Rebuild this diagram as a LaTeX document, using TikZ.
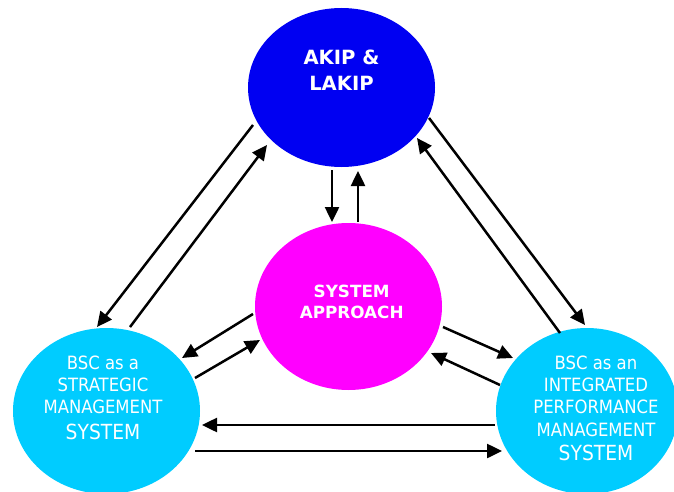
\documentclass[tikz,border=0pt]{standalone}
\usepackage{fontspec}
\setmainfont{DejaVu Sans}
\newfontfamily\condfont{DejaVu Sans Condensed}
\usetikzlibrary{arrows.meta,shapes.geometric}
\definecolor{akipblue}{RGB}{0,0,242}
\definecolor{sysmag}{RGB}{255,0,255}
\definecolor{bsccyan}{RGB}{0,204,255}
\begin{document}
\begin{tikzpicture}[x=1pt,y=-1pt,
  bubble/.style={ellipse, inner sep=0pt, draw=none},
  conn/.style={line width=2.5pt, -{Triangle[length=15pt,width=14pt]}},
  txt/.style={text=white, anchor=base, inner sep=0pt},
  boldbig/.style={txt, font=\bfseries\fontsize{19.6}{23}\selectfont},
  boldmid/.style={txt, font=\bfseries\fontsize{16.8}{20}\selectfont},
  plain/.style={txt, font=\condfont\fontsize{18.3}{22}\selectfont},
  plainbig/.style={txt, font=\condfont\fontsize{20.8}{25}\selectfont}]
\useasboundingbox (0,0) rectangle (674,492);

% bubbles
\node[bubble, fill=akipblue, minimum width=187pt, minimum height=159pt] (akip) at (341.5,87.5) {};
\node[bubble, fill=sysmag, minimum width=187pt, minimum height=167pt] (sys) at (348.5,306.5) {};
\node[bubble, fill=bsccyan, minimum width=187pt, minimum height=166pt] (bsl) at (106.5,411) {};
\node[bubble, fill=bsccyan, minimum width=182pt, minimum height=166pt] (bsr) at (587,411) {};

% texts
\node[boldbig] (akipA) at (341.5,64.5) {AKIP \&};
\node[boldbig] (akipB) at (341.5,90.3) {LAKIP};
\node[boldmid] (sysA) at (351.7,297.7) {SYSTEM};
\node[boldmid] (sysB) at (351.7,318) {APPROACH};
\node[plain] (blA) at (103,369.7) {BSC as a};
\node[plain] (blB) at (103,391.7) {STRATEGIC};
\node[plain] (blC) at (103,413.7) {MANAGEMENT};
\node[plainbig] (blD) at (103,439.5) {SYSTEM};
\node[plain] (brA) at (596,369.7) {BSC as an};
\node[plain] (brB) at (596,391.7) {INTEGRATED};
\node[plain] (brC) at (596,413.7) {PERFORMANCE};
\node[plain] (brD) at (596,436.7) {MANAGEMENT};
\node[plainbig] (brE) at (596,460.5) {SYSTEM};

% connector end points
\coordinate (akipDown) at (332,170);  \coordinate (sysUpIn) at (332,222);
\coordinate (sysUp) at (358,222);     \coordinate (akipUpIn) at (358,171);
\coordinate (akipToL) at (253,125);   \coordinate (bslIn) at (97,327);
\coordinate (bslToT) at (130,327);    \coordinate (akipInL) at (267,145);
\coordinate (akipToR) at (429,118);   \coordinate (bsrIn) at (585,325);
\coordinate (bsrToT) at (560,333);    \coordinate (akipInR) at (417,138);
\coordinate (sysToL) at (253,314);    \coordinate (bslInM) at (182,358);
\coordinate (bslToM) at (195,378);    \coordinate (sysInL) at (260,340);
\coordinate (sysToR) at (443,327);    \coordinate (bsrInM) at (513,358);
\coordinate (bsrToM) at (500,385);    \coordinate (sysInR) at (431,353);
\coordinate (bsrToL) at (495,425);    \coordinate (bslInB) at (202,425);
\coordinate (bslToR) at (195,451);    \coordinate (bsrInB) at (502,451);

% connectors
\draw[conn] (akipDown) -- (sysUpIn);
\draw[conn] (sysUp) -- (akipUpIn);
\draw[conn] (akipToL) -- (bslIn);
\draw[conn] (bslToT) -- (akipInL);
\draw[conn] (akipToR) -- (bsrIn);
\draw[conn] (bsrToT) -- (akipInR);
\draw[conn] (sysToL) -- (bslInM);
\draw[conn] (bslToM) -- (sysInL);
\draw[conn] (sysToR) -- (bsrInM);
\draw[conn] (bsrToM) -- (sysInR);
\draw[conn] (bsrToL) -- (bslInB);
\draw[conn] (bslToR) -- (bsrInB);
\end{tikzpicture}
\end{document}
